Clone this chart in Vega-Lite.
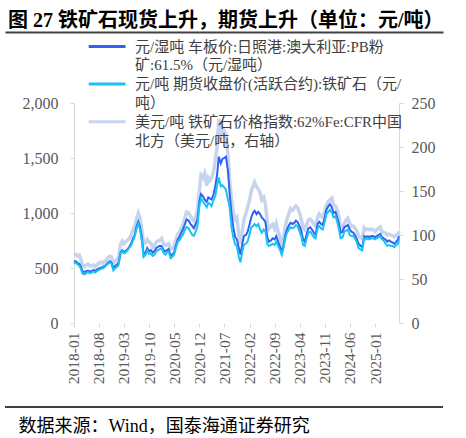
{
  "$schema": "https://vega.github.io/schema/vega-lite/v6.json",
  "autosize": {"type": "none"},
  "width": 438,
  "height": 220,
  "padding": {"left": 5, "top": 103, "right": 23, "bottom": 115},
  "title": {
    "text": "图 27 铁矿石现货上升，期货上升（单位：元/吨）",
    "anchor": "start",
    "frame": "group",
    "font": "Liberation Serif, Noto Sans CJK SC",
    "fontSize": 20,
    "fontWeight": "bold",
    "color": "#000000",
    "offset": 1,
    "dx": 3
  },
  "config": {
    "font": "Liberation Serif, Noto Sans CJK SC",
    "view": {"stroke": null},
    "axis": {
      "grid": false,
      "domainColor": "#d9d9d9",
      "tickColor": "#d9d9d9",
      "labelColor": "#595959",
      "labelFont": "Liberation Serif, Noto Sans CJK SC",
      "labelFontSize": 15.5
    },
    "legend": {
      "padding": 0,
      "symbolType": "M-3.6,0H1",
      "symbolSize": 256,
      "symbolStrokeWidth": 3,
      "labelFont": "Liberation Serif, Noto Sans CJK SC",
      "labelFontSize": 15,
      "labelColor": "#404040",
      "labelOffset": 8,
      "labelLimit": 400
    }
  },
  "datasets": {
    "prices": [
      {"d": "2018-01-01", "spot": 555, "fut": 540, "idx": 77},
      {"d": "2018-01-15", "spot": 562, "fut": 548, "idx": 78},
      {"d": "2018-02-01", "spot": 545, "fut": 532, "idx": 76},
      {"d": "2018-02-15", "spot": 538, "fut": 520, "idx": 77},
      {"d": "2018-03-01", "spot": 512, "fut": 492, "idx": 72},
      {"d": "2018-03-15", "spot": 468, "fut": 448, "idx": 66},
      {"d": "2018-04-01", "spot": 465, "fut": 442, "idx": 64},
      {"d": "2018-04-15", "spot": 472, "fut": 455, "idx": 66},
      {"d": "2018-05-01", "spot": 476, "fut": 462, "idx": 67},
      {"d": "2018-05-15", "spot": 468, "fut": 452, "idx": 65},
      {"d": "2018-06-01", "spot": 474, "fut": 460, "idx": 65},
      {"d": "2018-06-15", "spot": 482, "fut": 468, "idx": 66},
      {"d": "2018-07-01", "spot": 472, "fut": 458, "idx": 64},
      {"d": "2018-07-15", "spot": 486, "fut": 472, "idx": 66},
      {"d": "2018-08-01", "spot": 496, "fut": 482, "idx": 68},
      {"d": "2018-08-15", "spot": 502, "fut": 492, "idx": 69},
      {"d": "2018-09-01", "spot": 508, "fut": 496, "idx": 68},
      {"d": "2018-09-15", "spot": 516, "fut": 506, "idx": 70},
      {"d": "2018-10-01", "spot": 530, "fut": 522, "idx": 71},
      {"d": "2018-10-15", "spot": 546, "fut": 536, "idx": 74},
      {"d": "2018-11-01", "spot": 562, "fut": 552, "idx": 76},
      {"d": "2018-11-15", "spot": 552, "fut": 538, "idx": 75},
      {"d": "2018-12-01", "spot": 502, "fut": 478, "idx": 68},
      {"d": "2018-12-15", "spot": 516, "fut": 496, "idx": 70},
      {"d": "2019-01-01", "spot": 532, "fut": 512, "idx": 72},
      {"d": "2019-01-15", "spot": 548, "fut": 528, "idx": 75},
      {"d": "2019-02-01", "spot": 642, "fut": 632, "idx": 90},
      {"d": "2019-02-15", "spot": 662, "fut": 652, "idx": 93},
      {"d": "2019-03-01", "spot": 646, "fut": 634, "idx": 90},
      {"d": "2019-03-15", "spot": 652, "fut": 642, "idx": 92},
      {"d": "2019-04-01", "spot": 672, "fut": 660, "idx": 94},
      {"d": "2019-04-15", "spot": 690, "fut": 682, "idx": 96},
      {"d": "2019-05-01", "spot": 722, "fut": 704, "idx": 100},
      {"d": "2019-05-15", "spot": 762, "fut": 742, "idx": 105},
      {"d": "2019-06-01", "spot": 800, "fut": 788, "idx": 110},
      {"d": "2019-06-15", "spot": 872, "fut": 852, "idx": 118},
      {"d": "2019-07-01", "spot": 922, "fut": 904, "idx": 125},
      {"d": "2019-07-15", "spot": 880, "fut": 852, "idx": 120},
      {"d": "2019-08-01", "spot": 772, "fut": 742, "idx": 106},
      {"d": "2019-08-15", "spot": 622, "fut": 600, "idx": 90},
      {"d": "2019-09-01", "spot": 642, "fut": 620, "idx": 91},
      {"d": "2019-09-15", "spot": 682, "fut": 660, "idx": 95},
      {"d": "2019-10-01", "spot": 652, "fut": 628, "idx": 92},
      {"d": "2019-10-15", "spot": 662, "fut": 632, "idx": 91},
      {"d": "2019-11-01", "spot": 640, "fut": 610, "idx": 86},
      {"d": "2019-11-15", "spot": 652, "fut": 620, "idx": 88},
      {"d": "2019-12-01", "spot": 682, "fut": 652, "idx": 92},
      {"d": "2019-12-15", "spot": 692, "fut": 662, "idx": 93},
      {"d": "2020-01-01", "spot": 702, "fut": 672, "idx": 94},
      {"d": "2020-01-15", "spot": 698, "fut": 680, "idx": 96},
      {"d": "2020-02-01", "spot": 662, "fut": 640, "idx": 90},
      {"d": "2020-02-15", "spot": 652, "fut": 622, "idx": 88},
      {"d": "2020-03-01", "spot": 662, "fut": 642, "idx": 89},
      {"d": "2020-03-15", "spot": 672, "fut": 650, "idx": 90},
      {"d": "2020-04-01", "spot": 612, "fut": 590, "idx": 84},
      {"d": "2020-04-15", "spot": 622, "fut": 600, "idx": 85},
      {"d": "2020-05-01", "spot": 642, "fut": 622, "idx": 87},
      {"d": "2020-05-15", "spot": 702, "fut": 680, "idx": 94},
      {"d": "2020-06-01", "spot": 762, "fut": 740, "idx": 101},
      {"d": "2020-06-15", "spot": 782, "fut": 752, "idx": 103},
      {"d": "2020-07-01", "spot": 822, "fut": 782, "idx": 108},
      {"d": "2020-07-15", "spot": 852, "fut": 802, "idx": 112},
      {"d": "2020-08-01", "spot": 902, "fut": 852, "idx": 120},
      {"d": "2020-08-15", "spot": 942, "fut": 872, "idx": 126},
      {"d": "2020-09-01", "spot": 932, "fut": 862, "idx": 125},
      {"d": "2020-09-15", "spot": 902, "fut": 832, "idx": 122},
      {"d": "2020-10-01", "spot": 882, "fut": 802, "idx": 118},
      {"d": "2020-10-15", "spot": 862, "fut": 792, "idx": 116},
      {"d": "2020-11-01", "spot": 902, "fut": 832, "idx": 121},
      {"d": "2020-11-15", "spot": 942, "fut": 882, "idx": 128},
      {"d": "2020-12-01", "spot": 1102, "fut": 1062, "idx": 150},
      {"d": "2020-12-15", "spot": 1172, "fut": 1132, "idx": 168},
      {"d": "2021-01-01", "spot": 1152, "fut": 1102, "idx": 165},
      {"d": "2021-01-15", "spot": 1122, "fut": 1082, "idx": 170},
      {"d": "2021-02-01", "spot": 1102, "fut": 1052, "idx": 156},
      {"d": "2021-02-15", "spot": 1142, "fut": 1092, "idx": 165},
      {"d": "2021-03-01", "spot": 1132, "fut": 1082, "idx": 162},
      {"d": "2021-03-15", "spot": 1122, "fut": 1062, "idx": 165},
      {"d": "2021-04-01", "spot": 1172, "fut": 1122, "idx": 172},
      {"d": "2021-04-15", "spot": 1242, "fut": 1152, "idx": 185},
      {"d": "2021-05-01", "spot": 1352, "fut": 1252, "idx": 200},
      {"d": "2021-05-15", "spot": 1512, "fut": 1322, "idx": 232},
      {"d": "2021-06-01", "spot": 1452, "fut": 1242, "idx": 210},
      {"d": "2021-06-15", "spot": 1492, "fut": 1252, "idx": 222},
      {"d": "2021-07-01", "spot": 1502, "fut": 1232, "idx": 218},
      {"d": "2021-07-15", "spot": 1512, "fut": 1212, "idx": 214},
      {"d": "2021-08-01", "spot": 1382, "fut": 1122, "idx": 190},
      {"d": "2021-08-15", "spot": 1182, "fut": 1052, "idx": 162},
      {"d": "2021-09-01", "spot": 982, "fut": 862, "idx": 140},
      {"d": "2021-09-15", "spot": 872, "fut": 782, "idx": 125},
      {"d": "2021-10-01", "spot": 782, "fut": 712, "idx": 118},
      {"d": "2021-10-15", "spot": 762, "fut": 702, "idx": 120},
      {"d": "2021-11-01", "spot": 682, "fut": 602, "idx": 100},
      {"d": "2021-11-15", "spot": 622, "fut": 552, "idx": 90},
      {"d": "2021-12-01", "spot": 722, "fut": 652, "idx": 105},
      {"d": "2021-12-15", "spot": 792, "fut": 712, "idx": 118},
      {"d": "2022-01-01", "spot": 800, "fut": 720, "idx": 125},
      {"d": "2022-01-15", "spot": 830, "fut": 740, "idx": 132},
      {"d": "2022-02-01", "spot": 900, "fut": 810, "idx": 140},
      {"d": "2022-02-15", "spot": 960, "fut": 870, "idx": 150},
      {"d": "2022-03-01", "spot": 1000, "fut": 880, "idx": 155},
      {"d": "2022-03-15", "spot": 1020, "fut": 900, "idx": 160},
      {"d": "2022-04-01", "spot": 990, "fut": 880, "idx": 155},
      {"d": "2022-04-15", "spot": 1010, "fut": 900, "idx": 152},
      {"d": "2022-05-01", "spot": 990, "fut": 850, "idx": 148},
      {"d": "2022-05-15", "spot": 960, "fut": 820, "idx": 140},
      {"d": "2022-06-01", "spot": 940, "fut": 850, "idx": 143},
      {"d": "2022-06-15", "spot": 920, "fut": 830, "idx": 135},
      {"d": "2022-07-01", "spot": 780, "fut": 720, "idx": 115},
      {"d": "2022-07-15", "spot": 740, "fut": 700, "idx": 107},
      {"d": "2022-08-01", "spot": 750, "fut": 710, "idx": 110},
      {"d": "2022-08-15", "spot": 770, "fut": 720, "idx": 112},
      {"d": "2022-09-01", "spot": 760, "fut": 710, "idx": 107},
      {"d": "2022-09-15", "spot": 790, "fut": 740, "idx": 113},
      {"d": "2022-10-01", "spot": 740, "fut": 700, "idx": 104},
      {"d": "2022-10-15", "spot": 700, "fut": 670, "idx": 98},
      {"d": "2022-11-01", "spot": 650, "fut": 620, "idx": 90},
      {"d": "2022-11-15", "spot": 700, "fut": 680, "idx": 96},
      {"d": "2022-12-01", "spot": 800, "fut": 770, "idx": 110},
      {"d": "2022-12-15", "spot": 850, "fut": 820, "idx": 118},
      {"d": "2023-01-01", "spot": 890, "fut": 850, "idx": 125},
      {"d": "2023-01-15", "spot": 910, "fut": 870, "idx": 130},
      {"d": "2023-02-01", "spot": 900, "fut": 860, "idx": 128},
      {"d": "2023-02-15", "spot": 910, "fut": 870, "idx": 131},
      {"d": "2023-03-01", "spot": 930, "fut": 890, "idx": 133},
      {"d": "2023-03-15", "spot": 920, "fut": 880, "idx": 131},
      {"d": "2023-04-01", "spot": 880, "fut": 830, "idx": 125},
      {"d": "2023-04-15", "spot": 840, "fut": 790, "idx": 118},
      {"d": "2023-05-01", "spot": 760, "fut": 710, "idx": 108},
      {"d": "2023-05-15", "spot": 740, "fut": 700, "idx": 106},
      {"d": "2023-06-01", "spot": 810, "fut": 770, "idx": 112},
      {"d": "2023-06-15", "spot": 860, "fut": 820, "idx": 117},
      {"d": "2023-07-01", "spot": 870, "fut": 830, "idx": 118},
      {"d": "2023-07-15", "spot": 850, "fut": 810, "idx": 116},
      {"d": "2023-08-01", "spot": 820, "fut": 780, "idx": 112},
      {"d": "2023-08-15", "spot": 800, "fut": 770, "idx": 110},
      {"d": "2023-09-01", "spot": 900, "fut": 860, "idx": 120},
      {"d": "2023-09-15", "spot": 920, "fut": 880, "idx": 124},
      {"d": "2023-10-01", "spot": 900, "fut": 860, "idx": 121},
      {"d": "2023-10-15", "spot": 890, "fut": 850, "idx": 120},
      {"d": "2023-11-01", "spot": 960, "fut": 920, "idx": 127},
      {"d": "2023-11-15", "spot": 1030, "fut": 990, "idx": 134},
      {"d": "2023-12-01", "spot": 1060, "fut": 1010, "idx": 138},
      {"d": "2023-12-15", "spot": 1080, "fut": 1030, "idx": 140},
      {"d": "2024-01-01", "spot": 1050, "fut": 1000, "idx": 142},
      {"d": "2024-01-15", "spot": 1000, "fut": 960, "idx": 134},
      {"d": "2024-02-01", "spot": 1010, "fut": 970, "idx": 133},
      {"d": "2024-02-15", "spot": 960, "fut": 920, "idx": 128},
      {"d": "2024-03-01", "spot": 900, "fut": 850, "idx": 120},
      {"d": "2024-03-15", "spot": 820, "fut": 770, "idx": 106},
      {"d": "2024-04-01", "spot": 830, "fut": 780, "idx": 108},
      {"d": "2024-04-15", "spot": 870, "fut": 830, "idx": 113},
      {"d": "2024-05-01", "spot": 880, "fut": 840, "idx": 117},
      {"d": "2024-05-15", "spot": 890, "fut": 850, "idx": 119},
      {"d": "2024-06-01", "spot": 850, "fut": 800, "idx": 113},
      {"d": "2024-06-15", "spot": 830, "fut": 790, "idx": 110},
      {"d": "2024-07-01", "spot": 820, "fut": 790, "idx": 110},
      {"d": "2024-07-15", "spot": 800, "fut": 770, "idx": 108},
      {"d": "2024-08-01", "spot": 760, "fut": 730, "idx": 104},
      {"d": "2024-08-15", "spot": 720, "fut": 680, "idx": 99},
      {"d": "2024-09-01", "spot": 700, "fut": 670, "idx": 97},
      {"d": "2024-09-15", "spot": 690, "fut": 660, "idx": 96},
      {"d": "2024-10-01", "spot": 790, "fut": 770, "idx": 108},
      {"d": "2024-10-15", "spot": 780, "fut": 760, "idx": 106},
      {"d": "2024-11-01", "spot": 790, "fut": 770, "idx": 107},
      {"d": "2024-11-15", "spot": 780, "fut": 760, "idx": 106},
      {"d": "2024-12-01", "spot": 790, "fut": 770, "idx": 107},
      {"d": "2024-12-15", "spot": 790, "fut": 770, "idx": 106},
      {"d": "2025-01-01", "spot": 780, "fut": 760, "idx": 104},
      {"d": "2025-01-15", "spot": 790, "fut": 770, "idx": 106},
      {"d": "2025-02-01", "spot": 800, "fut": 780, "idx": 108},
      {"d": "2025-02-15", "spot": 810, "fut": 790, "idx": 109},
      {"d": "2025-03-01", "spot": 780, "fut": 760, "idx": 104},
      {"d": "2025-03-15", "spot": 770, "fut": 750, "idx": 103},
      {"d": "2025-04-01", "spot": 760, "fut": 720, "idx": 102},
      {"d": "2025-04-15", "spot": 740, "fut": 700, "idx": 100},
      {"d": "2025-05-01", "spot": 750, "fut": 710, "idx": 101},
      {"d": "2025-05-15", "spot": 740, "fut": 700, "idx": 100},
      {"d": "2025-06-01", "spot": 730, "fut": 700, "idx": 99},
      {"d": "2025-06-15", "spot": 720, "fut": 690, "idx": 98},
      {"d": "2025-07-01", "spot": 740, "fut": 710, "idx": 100},
      {"d": "2025-07-15", "spot": 760, "fut": 720, "idx": 101},
      {"d": "2025-07-24", "spot": 790, "fut": 765, "idx": 104}
    ]
  },
  "layer": [
    {
      "data": {"name": "prices"},
      "encoding": {
        "x": {
          "field": "d",
          "type": "temporal",
          "scale": {"domain": [{"year": 2016, "month": 5, "date": 25}, {"year": 2026, "month": 8, "date": 1, "hours": 14}]},
          "axis": {
            "orient": "bottom",
            "title": null,
            "domain": false,
            "format": "%Y-%m",
            "labelAngle": -90,
            "labelPadding": 5,
            "tickSize": 4,
            "values": [
              {"year": 2018, "month": 1, "date": 1},
              {"year": 2018, "month": 8, "date": 1},
              {"year": 2019, "month": 3, "date": 1},
              {"year": 2019, "month": 10, "date": 1},
              {"year": 2020, "month": 5, "date": 1},
              {"year": 2020, "month": 12, "date": 1},
              {"year": 2021, "month": 7, "date": 1},
              {"year": 2022, "month": 2, "date": 1},
              {"year": 2022, "month": 9, "date": 1},
              {"year": 2023, "month": 4, "date": 1},
              {"year": 2023, "month": 11, "date": 1},
              {"year": 2024, "month": 6, "date": 1},
              {"year": 2025, "month": 1, "date": 1}
            ]
          }
        }
      },
      "layer": [
        {
          "mark": {"type": "line", "strokeWidth": 3.5},
          "encoding": {
            "y": {
              "field": "idx",
              "type": "quantitative",
              "scale": {"domain": [0, 250]},
              "axis": {"orient": "right", "offset": -44, "title": null, "values": [0, 50, 100, 150, 200, 250], "labelPadding": 8, "tickSize": 4, "labelFontSize": 16}
            },
            "color": {
              "datum": "美元/吨 铁矿石价格指数:62%Fe:CFR中国",
              "type": "nominal",
              "scale": {
                "domain": [
                  "元/湿吨 车板价:日照港:澳大利亚:PB粉",
                  "矿:61.5%（元/湿吨）",
                  "元/吨 期货收盘价(活跃合约):铁矿石（元/",
                  "吨）",
                  "美元/吨 铁矿石价格指数:62%Fe:CFR中国",
                  "北方（美元/吨，右轴）"
                ],
                "range": ["#2f62f3", "transparent", "#16c3f3", "transparent", "#c6d4ee", "transparent"]
              },
              "legend": {
                "title": null,
                "orient": "none",
                "legendX": 103,
                "legendY": -66,
                "rowPadding": 0.8
              }
            }
          }
        },
        {
          "layer": [
            {
              "mark": {"type": "line", "strokeWidth": 2},
              "encoding": {
                "y": {
                  "field": "spot",
                  "type": "quantitative",
                  "scale": {"domain": [0, 2000]},
                  "axis": {"orient": "left", "offset": -69, "title": null, "values": [0, 500, 1000, 1500, 2000], "labelExpr": "format(datum.value, ',')", "labelPadding": 12, "tickSize": 4, "labelFontSize": 16}
                },
                "color": {"datum": "元/湿吨 车板价:日照港:澳大利亚:PB粉", "type": "nominal"}
              }
            },
            {
              "mark": {"type": "line", "strokeWidth": 2},
              "encoding": {
                "y": {
                  "field": "fut",
                  "type": "quantitative",
                  "axis": {"orient": "left", "offset": -69, "title": null, "values": [0, 500, 1000, 1500, 2000], "labelExpr": "format(datum.value, ',')", "labelPadding": 12, "tickSize": 4, "labelFontSize": 16}
                },
                "color": {"datum": "元/吨 期货收盘价(活跃合约):铁矿石（元/", "type": "nominal"}
              }
            },
            {
              "data": {"values": [{"base": 0}]},
              "mark": {"type": "rule", "color": "#d9d9d9", "strokeWidth": 1},
              "encoding": {
                "y": {"field": "base", "type": "quantitative"},
                "x": {"datum": {"year": 2018, "month": 1, "date": 1}, "type": "temporal"},
                "x2": {"datum": {"year": 2025, "month": 7, "date": 24}}
              }
            }
          ]
        }
      ],
      "resolve": {"scale": {"y": "independent"}}
    },
    {
      "data": {"values": [{"a": 0}]},
      "mark": {"type": "point", "opacity": 0},
      "encoding": {
        "x": {
          "field": "a",
          "type": "quantitative",
          "scale": {"domain": [0, 1]},
          "axis": {"orient": "top", "offset": 71, "title": null, "labels": false, "ticks": false, "domain": true, "domainColor": "#404040", "domainWidth": 2}
        }
      }
    },
    {
      "data": {"values": [{"a": 0}]},
      "mark": {"type": "point", "opacity": 0},
      "encoding": {
        "x": {
          "field": "a",
          "type": "quantitative",
          "scale": {"domain": [0, 1]},
          "axis": {
            "orient": "bottom",
            "offset": 84,
            "labels": false,
            "ticks": false,
            "domain": false,
            "title": "数据来源：Wind，国泰海通证券研究",
            "titleAnchor": "start",
            "titleAlign": "left",
            "titleBaseline": "middle",
            "titleX": 13,
            "titleY": 19,
            "titleFontSize": 18,
            "titleFontWeight": "normal",
            "titleColor": "#000000"
          }
        }
      }
    },
    {
      "data": {"values": [{"from": 0, "to": 1, "level": -84}]},
      "mark": {"type": "rule", "color": "#404040", "strokeWidth": 2},
      "encoding": {
        "x": {"field": "from", "type": "quantitative", "scale": {"domain": [0, 1]}, "axis": null},
        "x2": {"field": "to"},
        "y": {"field": "level", "type": "quantitative", "scale": {"domain": [0, 220]}, "axis": null}
      }
    }
  ],
  "resolve": {"scale": {"x": "independent", "y": "independent"}}
}
